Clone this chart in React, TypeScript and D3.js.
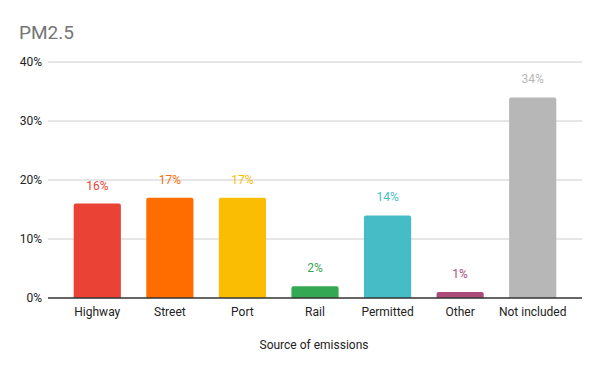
import React from "react";
import * as d3 from "d3";

const categories = ["Highway", "Street", "Port", "Rail", "Permitted", "Other", "Not included"];
const values = [16, 17, 17, 2, 14, 1, 34];
const colors = ["#ea4335", "#ff6d01", "#fbbc04", "#34a853", "#46bdc6", "#ab4b7a", "#b7b7b7"];
const yTicks = [0, 10, 20, 30, 40];

const W = 600;
const H = 371;
const FONT = "Roboto, 'Noto Sans', sans-serif";

export default function App() {
  const x = d3.scaleBand<string>().domain(categories).range([61, 569]).paddingInner(0.35).paddingOuter(0.175);
  const y = d3.scaleLinear().domain([0, 40]).range([298, 62]);
  return (
    <svg width={W} height={H} style={{ position: "absolute", left: 0, top: 0 }} fontFamily={FONT}>
      <rect width={W} height={H} fill="#fff" />
      <text x={19} y={39} fontSize={19} fill="#757575">PM2.5</text>
      {yTicks.map((t) => (
        <g key={t}>
          {t > 0 && <line x1={48} x2={582} y1={y(t)} y2={y(t)} stroke="#cccccc" strokeWidth={1} />}
          <text x={42} y={y(t) + 4} fontSize={12} fill="#222" textAnchor="end">{t + "%"}</text>
        </g>
      ))}
      {categories.map((c, i) => {
        const bx = x(c)!;
        const bw = x.bandwidth();
        const top = y(values[i]);
        return (
          <g key={c}>
            <path
              d={`M${bx},298 V${top + 2} Q${bx},${top} ${bx + 2},${top} H${bx + bw - 2} Q${bx + bw},${top} ${bx + bw},${top + 2} V298 Z`}
              fill={colors[i]}
            />
            <text x={bx + bw / 2} y={top - 14} fontSize={12} fill={colors[i]} textAnchor="middle">{values[i] + "%"}</text>
            <text x={bx + bw / 2} y={316} fontSize={12} fill="#222" textAnchor="middle">{c}</text>
          </g>
        );
      })}
      <line x1={48} x2={582} y1={298} y2={298} stroke="#333" strokeWidth={1.3} />
      <text x={314} y={349} fontSize={12} fill="#222" textAnchor="middle">Source of emissions</text>
    </svg>
  );
}
